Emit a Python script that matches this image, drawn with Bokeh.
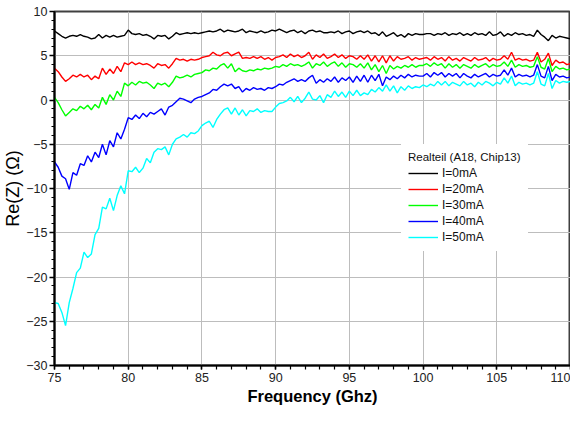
from bokeh.plotting import figure
from bokeh.models import Range1d, SingleIntervalTicker, Legend, LegendItem
from bokeh.embed import file_html
from bokeh.resources import INLINE

# Frequency samples (GHz), 75 .. 110 in 0.25 GHz steps
freq = [75 + 0.25 * i for i in range(141)]

re_0mA = [
    7.8, 7.5, 7.2, 7.0, 7.2, 7.3, 7.2, 7.4, 7.2, 7.1,
    6.9, 7.0, 7.4, 7.0, 7.3, 7.1, 7.3, 7.1, 7.2, 7.3,
    7.9, 7.5, 7.4, 7.5, 7.3, 7.4, 7.2, 6.9, 7.3, 7.2,
    7.3, 6.9, 7.2, 7.6, 7.4, 7.5, 7.6, 7.5, 7.6, 7.5,
    7.6, 7.7, 7.8, 7.7, 7.8, 8.0, 7.7, 7.9, 7.8, 7.7,
    7.8, 8.0, 7.6, 7.8, 7.7, 7.6, 7.8, 7.6, 7.7, 7.9,
    7.8, 8.0, 7.8, 7.6, 7.8, 7.9, 7.6, 7.8, 7.5, 7.8,
    7.9, 7.7, 7.8, 7.6, 7.6, 7.7, 7.6, 7.8, 7.5, 7.7,
    7.8, 7.5, 7.7, 7.8, 7.6, 7.8, 7.5, 7.6, 7.3, 7.7,
    7.2, 7.4, 7.6, 7.2, 7.4, 7.1, 7.5, 7.3, 7.5, 7.4,
    7.4, 7.5, 7.5, 7.3, 7.5, 7.4, 7.6, 7.3, 7.5, 7.4,
    7.6, 7.3, 7.5, 7.3, 7.6, 7.4, 7.5, 7.3, 7.7, 7.3,
    7.4, 7.7, 7.2, 7.5, 7.3, 7.6, 7.4, 7.5, 7.3, 7.4,
    7.2, 7.9, 7.4, 7.1, 6.7, 7.3, 7.0, 7.2, 7.1, 7.0,
    6.9,
]

re_20mA = [
    3.6, 3.2, 2.6, 2.1, 2.4, 2.8, 2.6, 2.9, 2.6, 2.8,
    2.3, 2.7, 2.4, 3.6, 2.9, 3.5, 3.0, 3.8, 3.2, 4.2,
    4.0, 4.3, 4.0, 4.2, 4.0, 4.1, 3.9, 3.6, 4.1, 3.9,
    4.0, 3.6, 4.1, 4.7, 4.5, 4.6, 4.4, 4.6, 4.5, 4.6,
    4.8, 4.9, 5.0, 5.4, 5.1, 5.0, 5.3, 5.4, 5.0, 5.2,
    5.4, 4.7, 4.8, 4.7, 4.9, 4.7, 4.9, 4.6, 4.8, 4.5,
    4.8, 4.9, 5.1, 4.8, 5.2, 4.9, 5.1, 4.8, 5.0, 5.4,
    4.6, 5.1, 4.8, 5.2, 4.7, 4.9, 5.2, 4.8, 5.1, 4.7,
    5.0, 4.9, 4.6, 5.0, 4.6, 5.1, 4.4, 5.0, 4.3, 5.0,
    4.2, 5.0, 4.4, 4.9, 4.6, 4.7, 4.9, 4.5, 4.8, 4.6,
    4.7, 4.8, 4.5, 4.9, 4.6, 4.8, 4.4, 4.9, 4.5, 4.7,
    4.4, 4.8, 4.6, 4.4, 4.8, 4.5, 4.6, 4.8, 4.4, 4.7,
    4.5, 4.6, 5.0, 4.6, 5.4, 4.5, 4.7, 4.5, 4.6, 4.4,
    4.5, 5.4, 4.3, 4.6, 5.3, 3.9, 4.5, 4.2, 4.3, 4.0,
    4.1,
]

re_30mA = [
    0.3, -0.3, -1.1, -1.8, -1.4, -1.0, -1.2, -0.7, -1.0, -0.6,
    -1.1, -0.5, -0.9, 0.3, -0.5, 0.6, 0.0, 1.0, 0.4, 1.9,
    1.6, 2.0, 1.7, 2.1, 1.9, 2.0, 1.7, 1.3, 1.9, 1.7,
    1.9, 1.5, 2.0, 2.7, 2.5, 2.6, 2.8, 2.6, 2.9, 3.0,
    3.1, 3.4, 3.3, 3.6, 3.5, 3.9, 4.1, 3.6, 4.1, 3.2,
    3.6, 3.3, 3.2, 3.4, 3.3, 3.5, 3.4, 3.6, 3.5, 3.6,
    3.8, 3.7, 4.0, 3.8, 4.1, 3.9, 4.0, 3.8, 4.0, 4.3,
    3.6, 4.1, 3.9, 4.3, 3.8, 4.1, 4.3, 3.8, 4.2, 3.7,
    4.1, 4.0, 3.7, 4.1, 3.6, 4.2, 3.4, 4.0, 3.2, 3.9,
    3.0, 3.9, 3.5, 3.8, 3.6, 3.9, 3.7, 4.0, 3.7, 3.9,
    3.9, 4.1, 3.8, 4.2, 3.9, 4.1, 3.6, 4.1, 3.7, 4.0,
    3.6, 4.0, 3.8, 3.6, 4.0, 3.7, 3.9, 4.1, 3.7, 4.0,
    3.8, 3.9, 4.3, 3.8, 4.5, 3.7, 4.0, 3.8, 3.9, 3.7,
    3.8, 4.9, 3.7, 3.5, 4.7, 3.2, 3.8, 3.5, 3.6, 3.4,
    3.5,
]

re_40mA = [
    -7.0, -7.6, -8.6, -8.9, -10.1, -8.2, -8.5, -7.2, -7.4, -6.3,
    -7.0, -5.9, -6.5, -5.0, -6.2, -4.6, -5.3, -3.7, -4.4, -3.3,
    -2.0, -2.2, -1.7, -2.1, -1.5, -1.9, -1.4, -1.6, -1.3, -1.0,
    -1.7, -0.8, -0.6, -0.2, 0.2, 0.1, -0.1, -0.3, 0.1, 0.3,
    0.4, 0.6, 0.8, 1.2, 1.1, 1.5, 1.8, 1.6, 1.8, 1.3,
    1.5, 0.9, 1.3, 1.1, 1.4, 1.2, 1.3, 1.1, 1.4, 1.3,
    1.5, 1.8, 1.7, 2.0, 2.2, 2.4, 2.1, 2.3, 2.1, 2.5,
    2.8, 1.9, 2.3, 2.0, 2.4, 2.1, 2.6, 2.0, 2.5, 2.2,
    2.6, 2.0, 2.7, 2.1, 2.8, 2.0, 2.8, 2.2, 2.9, 1.6,
    2.6, 2.3, 2.7, 2.4, 2.8, 2.5, 2.9, 2.6, 2.8, 2.7,
    2.7, 3.0, 2.6, 3.1, 2.8, 3.1, 2.6, 3.0, 2.7, 3.0,
    2.5, 3.0, 2.7, 2.5, 2.9, 2.6, 2.8, 3.0, 2.6, 2.9,
    2.7, 2.8, 3.4, 2.8, 3.6, 2.6, 2.9, 2.7, 2.8, 2.6,
    2.8, 4.0, 2.7, 2.5, 3.8, 2.2, 2.9, 2.6, 2.7, 2.5,
    2.6,
]

re_50mA = [
    -22.9, -23.0, -24.0, -25.5, -22.9, -21.3, -19.5, -19.0, -17.2, -17.8,
    -17.4, -15.2, -14.5, -12.1, -12.3, -11.1, -12.5, -10.8, -9.7, -10.6,
    -8.0, -8.1, -7.6, -8.2, -7.7, -6.6, -7.1, -5.9, -5.5, -5.6,
    -5.3, -6.2, -5.0, -4.4, -4.2, -3.9, -4.2, -3.7, -3.8, -3.5,
    -2.9, -2.6, -2.4, -3.1, -2.2, -1.6, -1.1, -0.9, -1.6, -0.9,
    -1.7, -1.1, -1.8, -1.2, -1.3, -1.0, -1.4, -1.2, -1.3, -1.3,
    -0.8, -0.4, -0.3, -0.1, 0.3, -0.2, 0.4, -0.3, 0.2, 0.9,
    0.1, 0.0, 0.5, -0.3, 0.6, 0.3, 1.0, 0.4, 0.9, 0.3,
    1.0, 0.5, 1.1, 0.5, 0.8, 0.6, 1.2, 0.9, 1.4, 1.0,
    1.7, 1.0, 1.6, 0.8, 1.5, 1.1, 1.6, 1.3, 1.5, 1.4,
    1.7, 1.5, 1.8, 1.6, 2.1, 1.7, 2.1, 1.6, 2.0, 1.8,
    1.6, 2.1, 1.7, 1.9, 1.5, 2.0, 1.7, 2.1, 1.9, 1.6,
    2.0, 1.8, 2.5, 1.9, 2.7, 1.6, 2.0, 1.8, 1.9, 1.7,
    1.9, 3.2, 1.8, 1.6, 3.0, 1.3, 2.2, 1.9, 2.1, 2.0,
    2.1,
]

series_labels = ["I=0mA", "I=20mA", "I=30mA", "I=40mA", "I=50mA"]
series_values = [re_0mA, re_20mA, re_30mA, re_40mA, re_50mA]
series_colors = ["#000000", "#ff0000", "#00ff00", "#0000ff", "#00ffff"]

x_min, x_max = 75, 110
y_min, y_max = -30, 10
tick_interval = 5

for vals in series_values:
    assert len(vals) == len(freq), len(vals)

FONT = "Liberation Sans"

p = figure(width=570, height=407, output_backend="svg", toolbar_location=None,
           x_range=Range1d(x_min, x_max), y_range=Range1d(y_min, y_max),
           min_border_left=47, min_border_right=0, min_border_top=11,
           min_border_bottom=40, background_fill_color="white",
           border_fill_color="white")

p.outline_line_color = "#404040"
p.outline_line_width = 2

p.xaxis.ticker = SingleIntervalTicker(interval=tick_interval, num_minor_ticks=5)
p.yaxis.ticker = SingleIntervalTicker(interval=tick_interval, num_minor_ticks=5)

for ax in (p.xaxis[0], p.yaxis[0]):
    ax.axis_line_color = "black"
    ax.axis_line_width = 2
    ax.major_tick_line_color = "black"
    ax.minor_tick_line_color = "black"
    ax.major_tick_line_width = 1.5
    ax.minor_tick_line_width = 1.2
    ax.major_tick_in = 0
    ax.minor_tick_in = 0
    ax.major_label_text_font = FONT
    ax.major_label_text_font_size = "12.5px"
    ax.major_label_text_color = "#222222"
    ax.axis_label_text_font = FONT
    ax.axis_label_text_color = "black"

p.xaxis.major_tick_out = 4
p.xaxis.minor_tick_out = 4
p.yaxis.major_tick_out = 5
p.yaxis.minor_tick_out = 3
p.xaxis.major_label_standoff = 3
p.yaxis.major_label_standoff = 2

p.xaxis.axis_label = "Frequency (Ghz)"
p.xaxis.axis_label_text_font_style = "bold"
p.xaxis.axis_label_text_font_size = "16.5px"
p.xaxis.axis_label_standoff = 2

p.yaxis.axis_label = "Re(Z) (Ω)"
p.yaxis.axis_label_text_font_style = "normal"
p.yaxis.axis_label_text_font_size = "18px"
p.yaxis.axis_label_standoff = 0

p.xgrid.grid_line_color = "#bdbdbd"
p.ygrid.grid_line_color = "#bdbdbd"
p.xgrid.grid_line_width = 1
p.ygrid.grid_line_width = 1

items = []
for lab, vals, col in zip(series_labels, series_values, series_colors):
    r = p.line(freq, vals, line_color=col, line_width=1.4)
    items.append(LegendItem(label=lab, renderers=[r]))

legend = Legend(items=items, location=(347, 114), title="Realteil (A18, Chip13)")
legend.title_text_font = FONT
legend.title_text_font_size = "11.5px"
legend.title_text_font_style = "normal"
legend.title_text_color = "#111111"
legend.title_standoff = 3
legend.label_text_font = FONT
legend.label_text_font_size = "12px"
legend.label_text_color = "#111111"
legend.glyph_width = 30
legend.glyph_height = 14
legend.label_height = 14
legend.spacing = 2
legend.label_standoff = 4
legend.padding = 7
legend.margin = 0
legend.border_line_alpha = 0
legend.background_fill_color = "white"
legend.background_fill_alpha = 1
p.add_layout(legend, "center")

open("out.html", "w").write(file_html(p, INLINE))
